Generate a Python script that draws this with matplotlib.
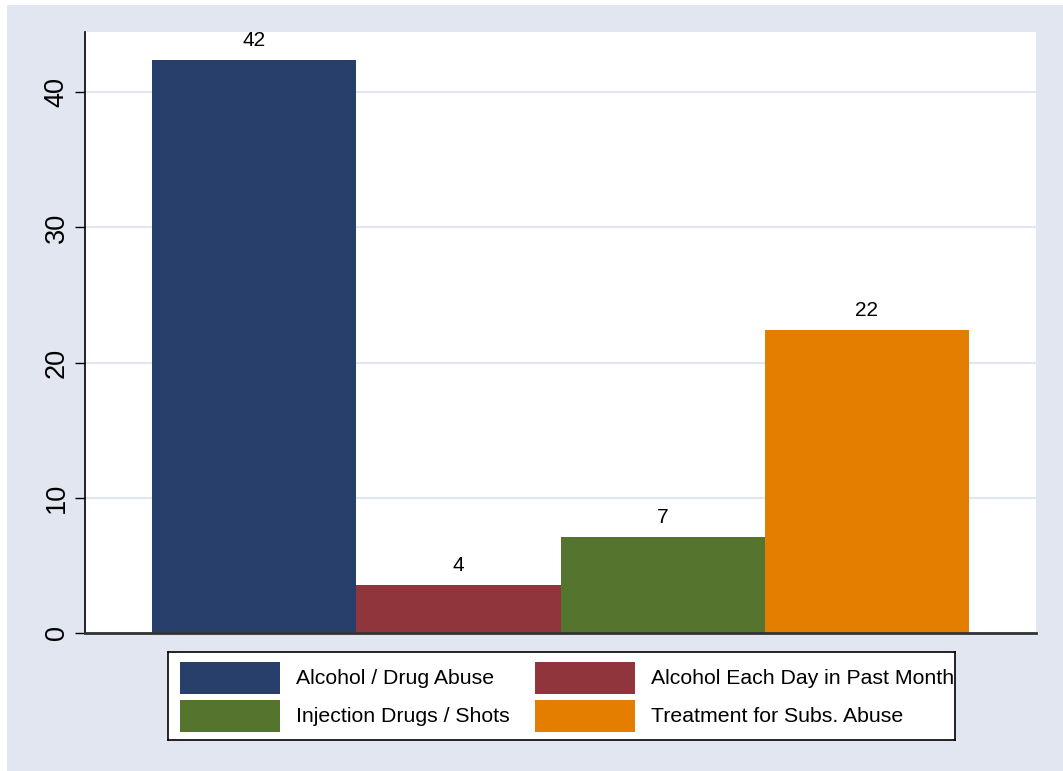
import matplotlib
matplotlib.use('Agg')
import matplotlib.pyplot as plt
import matplotlib.patches as mpatches

plt.rcParams['font.family'] = ['Liberation Sans', 'DejaVu Sans']

# data
CATEGORIES = ['Alcohol / Drug Abuse', 'Alcohol Each Day in Past Month',
              'Injection Drugs / Shots', 'Treatment for Subs. Abuse']
VALUES = [42.4, 3.55, 7.1, 22.4]
Y_TICKS = [0, 10, 20, 30, 40]
COLORS = ['#283f6b', '#90353b', '#55752f', '#e37e00']

BG = '#e1e6f0'
W, H = 1063, 771

fig = plt.figure(figsize=(W / 100, H / 100), dpi=100, facecolor='white')
# Stata-style outer region (thin white strip top/left as in reference)
fig.patches.append(mpatches.Rectangle((7 / W, -0.01), 1, 1.01 - 5 / H, transform=fig.transFigure,
                                      facecolor=BG, edgecolor='none', zorder=-10))

ax = fig.add_axes([85 / W, (H - 633) / H, (1036 - 85) / W, (633 - 32) / H])
ax.set_facecolor('white')

x = list(range(len(VALUES)))
bars = ax.bar(x, VALUES, width=1.0, color=COLORS, linewidth=0, zorder=2)
ax.bar_label(bars, labels=[f'{v:.0f}' for v in VALUES], padding=7, fontsize=15)

ax.set_xlim(-0.5 - 0.33, len(VALUES) - 0.5 + 0.33)
ax.set_ylim(0, (633 - 32) / 13.52)
ax.set_xticks([])
ax.set_yticks(Y_TICKS)
ax.set_yticklabels([str(t) for t in Y_TICKS], rotation=90, va='center', fontsize=19.5)
ax.tick_params(axis='y', direction='out', length=7, width=1, pad=4)
ax.yaxis.grid(True, color=BG, linewidth=1.5, zorder=1)
ax.set_axisbelow(True)

for s in ('top', 'right'):
    ax.spines[s].set_visible(False)
ax.spines['left'].set_linewidth(1.2)
ax.spines['bottom'].set_color('#333333')
ax.spines['bottom'].set_linewidth(2)

# legend box drawn in pixel coordinates
lx0, ly0, lx1, ly1 = 168, 652, 955, 740
lax = fig.add_axes([lx0 / W, (H - ly1) / H, (lx1 - lx0) / W, (ly1 - ly0) / H])
lax.set_xlim(0, lx1 - lx0)
lax.set_ylim(ly1 - ly0, 0)
lax.set_xticks([])
lax.set_yticks([])
for s in lax.spines.values():
    s.set_linewidth(1.2)
col_x = [12, 367]
row_y = [10, 48]
for i, (lab, c) in enumerate(zip(CATEGORIES, COLORS)):
    cx = col_x[i % 2]
    ry = row_y[i // 2]
    lax.add_patch(mpatches.Rectangle((cx, ry), 100, 32, facecolor=c, edgecolor='none'))
    lax.text(cx + 116, ry + 16, lab, fontsize=15.3, va='center', ha='left', clip_on=False)

fig.savefig('out.png', dpi=100, facecolor=fig.get_facecolor())
